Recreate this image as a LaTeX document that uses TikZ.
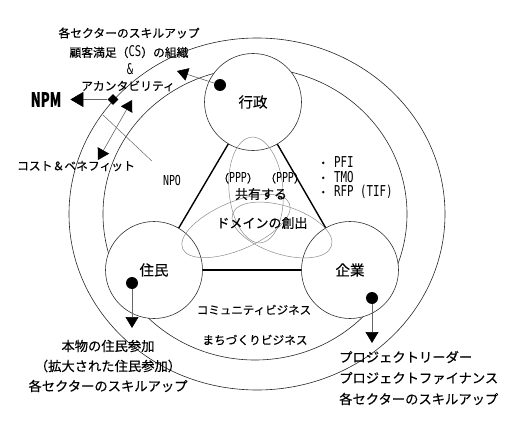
\documentclass[tikz,border=0pt]{standalone}
\usepackage{fontspec}
\usepackage{graphicx}
\setmainfont{Noto Sans CJK JP}[FakeBold=0.3]
\newfontfamily\latin{DejaVu Sans Mono}[Scale=1.25, FakeStretch=0.72]
\usetikzlibrary{arrows.meta,shapes.geometric}
\begin{document}
\begin{tikzpicture}[x=1pt,y=-1pt,
  ring/.style={draw=black!85, line width=0.6pt},
  actor/.style={circle, draw=black!80, fill=white, line width=0.6pt, minimum size=97pt, inner sep=0pt, font=\fontsize{14.5}{14.5}\selectfont},
  side/.style={line width=1.4pt, black},
  venn/.style={draw=black!45, line width=0.5pt},
  txt/.style={inner sep=0pt, font=\fontsize{#1}{#1}\selectfont},
  dotmark/.style={circle, fill=black, minimum size=12pt, inner sep=0pt},
  ptr/.style={draw=black!60, line width=0.6pt, -{Triangle[length=11pt,width=13pt,color=black]}},
  bigptr/.style={draw=black!60, line width=0.6pt, -{Triangle[length=13pt,width=15pt,color=black]}},
  dblptr/.style={draw=black!60, line width=0.6pt, {Triangle[length=11pt,width=13pt,color=black]}-{Triangle[length=11pt,width=13pt,color=black]}},
  thinline/.style={draw=black!60, line width=0.5pt}]
\useasboundingbox (0,0) rectangle (530,428);
% rings
\draw[ring] (257,214) ellipse [x radius=188pt, y radius=176pt];
\draw[ring] (255,214) ellipse [x radius=152pt, y radius=146pt];
% actors
\node[actor] (gy) at (253,102) {行政};
\node[actor] (jm) at (154,270) {住民};
\node[actor] (kg) at (350,270) {企業};
\draw[side] (gy) -- (jm);
\draw[side] (gy) -- (kg);
\draw[side] (jm) -- (kg);
% venn ellipses
\draw[venn, rotate around={5:(256,190)}] (256,190) ellipse [x radius=27pt, y radius=53pt];
\draw[venn, rotate around={23:(236,226)}] (236,226) ellipse [x radius=58pt, y radius=24pt];
\draw[venn, rotate around={-18:(282,230)}] (282,230) ellipse [x radius=52pt, y radius=24pt];
% texts
\node[txt=11.8] (t1) at (129,33) {各セクターのスキルアップ};
\node[txt=11.8] (t2) at (129,52) {顧客満足（{\latin CS}）の組織};
\node[txt=11.8] (t3) at (130,69) {{\latin\&}};
\node[txt=11.8] (t4) at (128,86) {アカンタビリティ};
\node[txt=20] (npm) at (46,99.5) {\bfseries\scalebox{0.65}[1]{NPM}};
\node[txt=11.8] (cb) at (76,166) {コスト＆ベネフィット};
\node[txt=11] (npo) at (172,180) {{\latin NPO}};
\node[txt=12, anchor=west] (pfi) at (317,162) {・\hspace{5pt}{\latin PFI}};
\node[txt=12, anchor=west] (tmo) at (317,177) {・\hspace{5pt}{\latin TMO}};
\node[txt=12, anchor=west] (rfp) at (317,192) {・\hspace{5pt}{\latin RFP (TIF)}};
\node[txt=11] (ppp1) at (238,178) {（{\latin PPP}）};
\node[txt=11] (ppp2) at (285,178) {（{\latin PPP}）};
\node[txt=13] (kyoyu) at (261,194) {共有する};
\node[txt=13] (domain) at (262,223) {ドメインの創出};
\node[txt=11.5] (comm) at (254,310) {コミュニティビジネス};
\node[txt=11.7] (machi) at (255,340) {まちづくりビジネス};
\node[txt=13.3] (b1) at (108,346) {本物の住民参加};
\node[txt=13.3] (b2) at (108,366) {（拡大された住民参加）};
\node[txt=13.3] (b3) at (108,386) {各セクターのスキルアップ};
\node[txt=13.3, anchor=west] (r1) at (339,357) {プロジェクトリーダー};
\node[txt=13.3, anchor=west] (r2) at (339,378) {プロジェクトファイナンス};
\node[txt=13.3, anchor=west] (r3) at (339,399) {各セクターのスキルアップ};
% arrows from dots
\node[dotmark] (dg) at (220,85) {};
\coordinate (ag) at (177,71);
\draw[ptr] (dg) -- (ag);
\node[dotmark] (dj) at (132,283) {};
\coordinate (aj) at (132,328);
\draw[ptr] (dj) -- (aj);
\node[dotmark] (dk) at (372,298) {};
\coordinate (ak) at (372,343);
\draw[ptr] (dk) -- (ak);
% NPM
\node[diamond, fill=black, minimum width=11pt, minimum height=11pt, inner sep=0pt] (dm) at (113,99.5) {};
\draw[bigptr, shorten >=9pt] (dm) -- (npm);
\coordinate (da) at (132,100);
\coordinate (db) at (98,160);
\draw[dblptr] (da) -- (db);
\coordinate (nl) at (103,115);
\draw[thinline, shorten >=20pt] (nl) -- (npo);
\end{tikzpicture}
\end{document}
